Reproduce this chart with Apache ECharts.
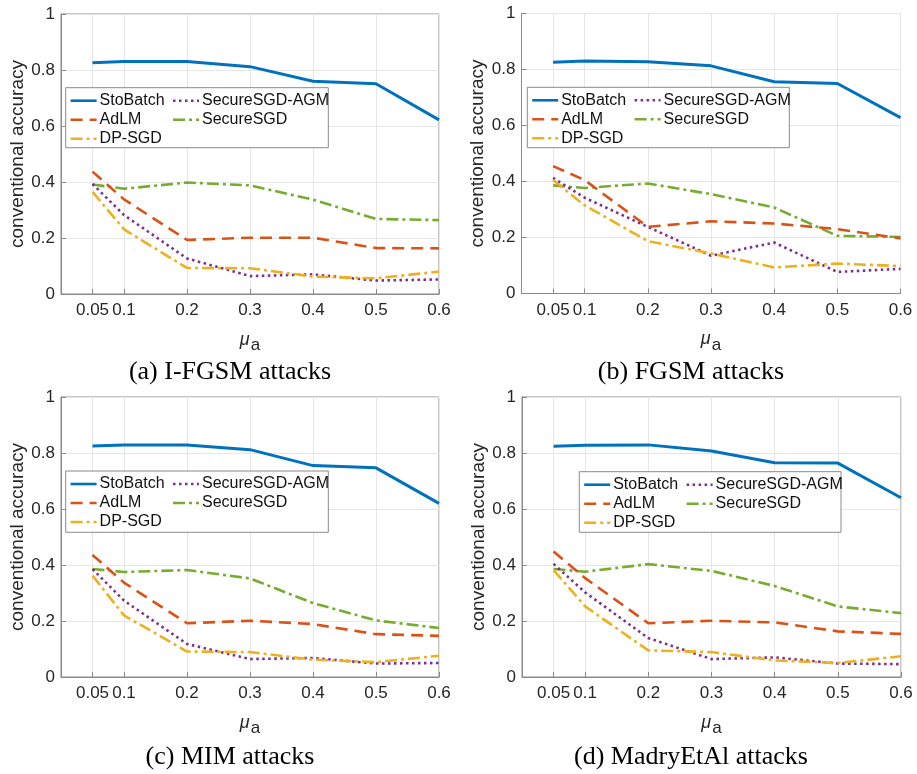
<!DOCTYPE html>
<html>
<head>
<meta charset="utf-8">
<script src="https://cdn.jsdelivr.net/npm/echarts@6/dist/echarts.min.js"></script>
<style>
html,body{margin:0;padding:0;background:#fff;}
#chart{width:917px;height:774px;}
</style>
</head>
<body>
<div id="chart"></div>
<script>
// ---------- data ----------
const muValues = [0.05, 0.1, 0.2, 0.3, 0.4, 0.5, 0.6];
const xTickLabels = ['0.05', '0.1', '0.2', '0.3', '0.4', '0.5', '0.6'];
const seriesNames = ['StoBatch', 'AdLM', 'DP-SGD', 'SecureSGD-AGM', 'SecureSGD'];
const panelCaptions = ['(a) I-FGSM attacks', '(b) FGSM attacks', '(c) MIM attacks', '(d) MadryEtAl attacks'];

// (a) I-FGSM
const ifgsmStoBatch = [0.826, 0.830, 0.830, 0.812, 0.760, 0.751, 0.622];
const ifgsmAdLM     = [0.437, 0.338, 0.193, 0.201, 0.201, 0.164, 0.163];
const ifgsmDPSGD    = [0.365, 0.231, 0.093, 0.092, 0.062, 0.056, 0.080];
const ifgsmAGM      = [0.393, 0.282, 0.127, 0.064, 0.070, 0.048, 0.052];
const ifgsmSecure   = [0.391, 0.376, 0.398, 0.388, 0.337, 0.268, 0.264];
// (b) FGSM
const fgsmStoBatch = [0.826, 0.830, 0.828, 0.813, 0.756, 0.750, 0.628];
const fgsmAdLM     = [0.455, 0.405, 0.238, 0.258, 0.250, 0.230, 0.197];
const fgsmDPSGD    = [0.405, 0.315, 0.187, 0.143, 0.093, 0.107, 0.098];
const fgsmAGM      = [0.413, 0.342, 0.238, 0.135, 0.182, 0.077, 0.088];
const fgsmSecure   = [0.386, 0.377, 0.393, 0.355, 0.307, 0.206, 0.202];
// (c) MIM
const mimStoBatch = [0.825, 0.829, 0.829, 0.812, 0.755, 0.747, 0.620];
const mimAdLM     = [0.436, 0.337, 0.192, 0.201, 0.189, 0.153, 0.147];
const mimDPSGD    = [0.362, 0.220, 0.091, 0.089, 0.062, 0.053, 0.076];
const mimAGM      = [0.385, 0.273, 0.118, 0.064, 0.068, 0.048, 0.050];
const mimSecure   = [0.386, 0.375, 0.382, 0.352, 0.264, 0.202, 0.175];
// (d) MadryEtAl
const madryStoBatch = [0.824, 0.828, 0.829, 0.807, 0.765, 0.764, 0.640];
const madryAdLM     = [0.448, 0.353, 0.192, 0.201, 0.195, 0.163, 0.154];
const madryDPSGD    = [0.382, 0.252, 0.095, 0.089, 0.059, 0.050, 0.074];
const madryAGM      = [0.404, 0.302, 0.139, 0.064, 0.070, 0.048, 0.046];
const madrySecure   = [0.386, 0.376, 0.403, 0.379, 0.325, 0.252, 0.228];

const panelData = [
  [ifgsmStoBatch, ifgsmAdLM, ifgsmDPSGD, ifgsmAGM, ifgsmSecure],
  [fgsmStoBatch, fgsmAdLM, fgsmDPSGD, fgsmAGM, fgsmSecure],
  [mimStoBatch, mimAdLM, mimDPSGD, mimAGM, mimSecure],
  [madryStoBatch, madryAdLM, madryDPSGD, madryAGM, madrySecure]
];

// ---------- styles ----------
const FONT = 'Liberation Sans';
const TXT = '#262626';
const AXC = '#8a8a8a';
const colors = ['#0072BD', '#D95319', '#EDB120', '#7E2F8E', '#77AC30'];
const dashes = ['solid', [12, 7], [12, 4, 3, 4], [2.5, 3.5], [12, 4, 3, 4]];
const widths = [3, 2.6, 2.6, 2.6, 2.6];

const grids = [
  {left: 61, top: 14, width: 378, height: 280},
  {left: 521.5, top: 13.5, width: 379, height: 280},
  {left: 61, top: 397, width: 378, height: 280},
  {left: 522, top: 397, width: 379, height: 280}
];
const legendBoxes = [
  {x: 65.7, y: 87.7, w: 262.6, h: 60},
  {x: 527.3, y: 87.3, w: 262, h: 60.4},
  {x: 65.7, y: 471, w: 262.6, h: 61.3},
  {x: 579.3, y: 471.7, w: 261.7, h: 60.6}
];
const captionPos = [[230, 372], [691, 372], [230, 757], [691, 757]];

const option = {
  animation: false,
  backgroundColor: '#fff',
  grid: [], xAxis: [], yAxis: [], series: [], legend: [], graphic: []
};

grids.forEach((g, i) => {
  option.grid.push(Object.assign({show: true, borderColor: AXC, borderWidth: 1, backgroundColor: 'transparent'}, g));
  option.xAxis.push({
    type: 'value', gridIndex: i, min: 0, max: 0.6,
    name: '{mu|μ}{sub|a}', nameLocation: 'middle', nameGap: 31,
    nameTextStyle: {
      rich: {
        mu: {fontFamily: FONT, fontStyle: 'italic', fontSize: 18, color: TXT},
        sub: {fontFamily: FONT, fontSize: 17, color: TXT, padding: [12, 0, 0, 1]}
      }
    },
    axisLine: {show: true, lineStyle: {color: AXC, width: 1}},
    axisTick: {show: true, inside: true, length: 5, customValues: muValues, lineStyle: {color: AXC}},
    axisLabel: {
      customValues: muValues, margin: 8, fontFamily: FONT, fontSize: 17, color: TXT,
      formatter: v => { const k = muValues.findIndex(m => Math.abs(m - v) < 1e-9); return k >= 0 ? xTickLabels[k] : ''; }
    },
    splitLine: {show: true, lineStyle: {color: '#e6e6e6', width: 1}}
  });
  option.yAxis.push({
    type: 'value', gridIndex: i, min: 0, max: 1, interval: 0.2,
    name: 'conventional accuracy', nameLocation: 'middle', nameGap: 34,
    nameTextStyle: {fontFamily: FONT, fontSize: 19, color: TXT},
    axisLine: {show: true, lineStyle: {color: AXC, width: 1}},
    axisTick: {show: true, inside: true, length: 5, lineStyle: {color: AXC}},
    axisLabel: {margin: 6, fontFamily: FONT, fontSize: 17, color: TXT},
    splitLine: {show: true, lineStyle: {color: '#e6e6e6', width: 1}}
  });
  seriesNames.forEach((name, s) => {
    option.series.push({
      type: 'line', name: name, xAxisIndex: i, yAxisIndex: i,
      data: muValues.map((x, k) => [x, panelData[i][s][k]]),
      symbol: 'none', z: 2 + (4 - s) * 0.01,
      lineStyle: {color: colors[s], width: widths[s], type: dashes[s], cap: 'butt'},
      itemStyle: {color: colors[s]}
    });
  });
  const b = legendBoxes[i];
  option.graphic.push({
    type: 'rect', z: 3, silent: true,
    shape: {x: b.x, y: b.y, width: b.w, height: b.h},
    style: {fill: '#fff', stroke: AXC, lineWidth: 1}
  });
  const legCommon = {
    orient: 'vertical', padding: 0, itemGap: 3, itemWidth: 26, itemHeight: 14,
    z: 5,
    textStyle: {fontFamily: FONT, fontSize: 16, color: '#111', lineHeight: 16, padding: [0, 0, 0, -2]},
    lineStyle: {width: 2.6},
    itemStyle: {opacity: 0}
  };
  option.legend.push(Object.assign({}, legCommon, {
    data: ['StoBatch', 'AdLM', 'DP-SGD'], left: b.x + 3.6, top: b.y + 5
  }));
  option.legend.push(Object.assign({}, legCommon, {
    data: ['SecureSGD-AGM', 'SecureSGD'], left: b.x + 106, top: b.y + 5
  }));
  option.graphic.push({
    type: 'text', silent: true,
    style: {
      text: panelCaptions[i], x: captionPos[i][0], y: captionPos[i][1],
      textAlign: 'center', textVerticalAlign: 'middle',
      font: '26px "Liberation Serif"', fill: '#000'
    }
  });
});

const chart = echarts.init(document.getElementById('chart'), null, {renderer: 'canvas'});
chart.setOption(option);
</script>
</body>
</html>
